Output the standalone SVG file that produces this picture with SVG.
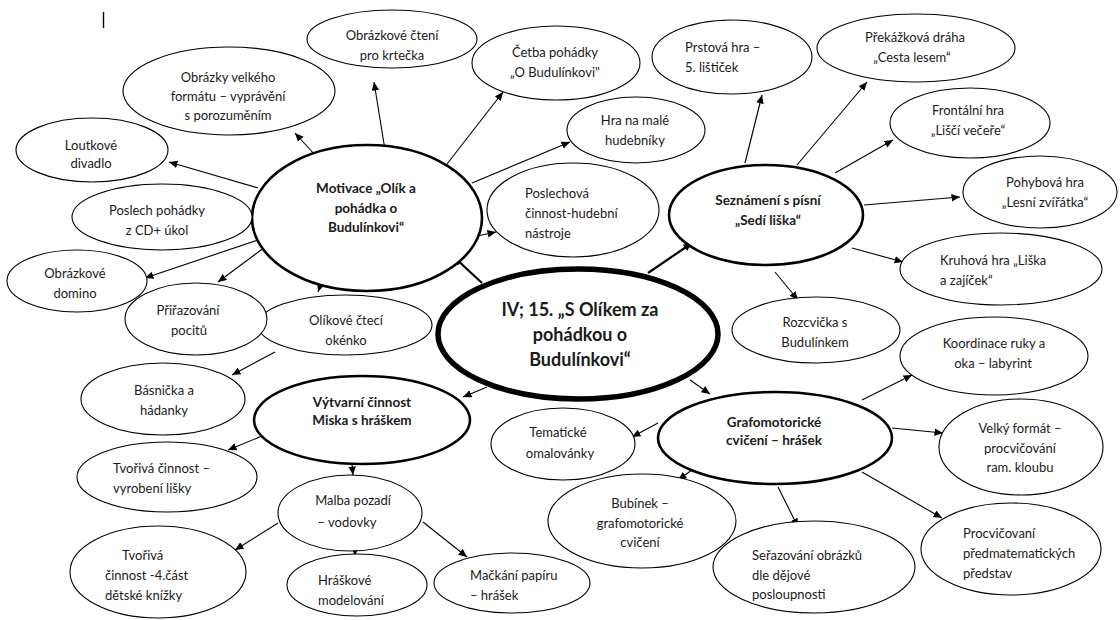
<svg xmlns="http://www.w3.org/2000/svg" width="1120" height="620" viewBox="0 0 1120 620">
<defs>
<style>
.leaf{fill:#fff;stroke:#000;stroke-width:1.1}
.mid{fill:#fff;stroke:#000;stroke-width:2.6}
.core{fill:#fff;stroke:#000;stroke-width:5.5}
text{font-family:Lato,"Open Sans","Noto Sans",sans-serif;fill:#1a1a1a}
.t{font-size:13px}
.m{text-anchor:middle}
.b{font-size:13.5px;font-weight:bold;text-anchor:middle}
.big{font-size:18px;font-weight:bold;text-anchor:middle}
.cn line{stroke:#000;stroke-width:1.1;marker-end:url(#ah)}
.cn line.thick{stroke-width:2.2}
</style>
<marker id="ah" markerUnits="userSpaceOnUse" markerWidth="9" markerHeight="8" refX="8.5" refY="3.75" orient="auto">
<path d="M0,0 L8.5,3.75 L0,7.5 z" fill="#000"/>
</marker>
</defs>
<rect width="1120" height="620" fill="#fff"/>
<line x1="103.5" y1="12" x2="103.5" y2="28" stroke="#000" stroke-width="1.4"/>

<g id="connectors" class="cn">
<line x1="315" y1="155" x2="295" y2="133"/>
<line x1="385" y1="150" x2="374" y2="82"/>
<line x1="447" y1="164" x2="503" y2="92"/>
<line x1="472" y1="183" x2="570" y2="142"/>
<line x1="477" y1="236" x2="496" y2="232"/>
<line x1="258" y1="188" x2="169" y2="162"/>
<line x1="258" y1="240" x2="145" y2="278"/>
<line x1="265" y1="247" x2="218" y2="282"/>
<line x1="325" y1="272" x2="318" y2="292"/>
<line class="thick" x1="482" y1="283" x2="454" y2="257"/>
<line class="thick" x1="648" y1="273" x2="692" y2="243"/>
<line x1="487" y1="387" x2="463" y2="397"/>
<line x1="690" y1="380" x2="710" y2="394"/>
<line x1="745" y1="163" x2="762" y2="95"/>
<line x1="797" y1="165" x2="867" y2="82"/>
<line x1="835" y1="173" x2="893" y2="140"/>
<line x1="864" y1="205" x2="960" y2="197"/>
<line x1="852" y1="248" x2="903" y2="262"/>
<line x1="775" y1="272" x2="798" y2="300"/>
<line x1="862" y1="400" x2="912" y2="375"/>
<line x1="892" y1="428" x2="943" y2="433"/>
<line x1="862" y1="472" x2="942" y2="518"/>
<line x1="778" y1="487" x2="798" y2="527"/>
<line x1="692" y1="470" x2="678" y2="480"/>
<line x1="658" y1="423" x2="632" y2="437"/>
<line x1="275" y1="352" x2="232" y2="375"/>
<line x1="262" y1="436" x2="228" y2="450"/>
<line x1="352" y1="465" x2="353" y2="475"/>
<line x1="278" y1="523" x2="235" y2="550"/>
<line x1="355" y1="548" x2="355" y2="556"/>
<line x1="423" y1="522" x2="467" y2="557"/>
</g>

<g id="n-center"><ellipse class="core" cx="578" cy="334" rx="140" ry="65"/>
<text class="big"><tspan x="580" y="316">IV; 15. „S Olíkem za</tspan><tspan x="580" y="341">pohádkou o</tspan><tspan x="580" y="366">Budulínkovi“</tspan></text></g>

<g id="n-motivace"><ellipse class="mid" cx="367" cy="218" rx="115" ry="73"/>
<text class="b"><tspan x="366" y="193">Motivace „Olík a</tspan><tspan x="366" y="213">pohádka o</tspan><tspan x="366" y="232">Budulínkovi“</tspan></text></g>

<g id="n-seznameni"><ellipse class="mid" cx="766" cy="215" rx="97" ry="50"/>
<text class="b"><tspan x="768" y="205">Seznámení s písní</tspan><tspan x="768" y="225">„Sedí liška“</tspan></text></g>

<g id="n-vytvarni"><ellipse class="mid" cx="362" cy="420" rx="108" ry="44"/>
<text class="b"><tspan x="362" y="407">Výtvarní činnost</tspan><tspan x="362" y="425">Miska s hráškem</tspan></text></g>

<g id="n-grafo"><ellipse class="mid" cx="775" cy="438" rx="117" ry="46"/>
<text class="b"><tspan x="774" y="427">Grafomotorické</tspan><tspan x="774" y="445">cvičení – hrášek</tspan></text></g>

<g id="n-obrazky-velkeho"><ellipse class="leaf" cx="229" cy="91" rx="106" ry="44"/>
<text class="t m"><tspan x="228" y="82">Obrázky velkého</tspan><tspan x="228" y="101">formátu – vyprávění</tspan><tspan x="228" y="120">s porozuměním</tspan></text></g>

<g id="n-loutkove"><ellipse class="leaf" cx="92" cy="150" rx="76" ry="32"/>
<text class="t m"><tspan x="91" y="150">Loutkové</tspan><tspan x="91" y="168">divadlo</tspan></text></g>

<g id="n-obrazkove-cteni"><ellipse class="leaf" cx="392" cy="39" rx="85" ry="29"/>
<text class="t m"><tspan x="392" y="40">Obrázkové čtení</tspan><tspan x="392" y="60">pro krtečka</tspan></text></g>

<g id="n-cetba"><ellipse class="leaf" cx="556" cy="63" rx="84" ry="37"/>
<text class="t m"><tspan x="555" y="57">Četba pohádky</tspan><tspan x="555" y="77">„O Budulínkovi"</tspan></text></g>

<g id="n-hra-male"><ellipse class="leaf" cx="636" cy="130" rx="69" ry="33"/>
<text class="t m"><tspan x="635" y="125">Hra na malé</tspan><tspan x="635" y="145">hudebníky</tspan></text></g>

<g id="n-poslechova"><ellipse class="leaf" cx="573" cy="210" rx="86" ry="47"/>
<text class="t"><tspan x="525" y="198">Poslechová</tspan><tspan x="525" y="218">činnost-hudební</tspan><tspan x="525" y="238">nástroje</tspan></text></g>

<g id="n-prstova"><ellipse class="leaf" cx="732" cy="57" rx="80" ry="37"/>
<text class="t"><tspan x="685" y="52">Prstová hra –</tspan><tspan x="685" y="72">5. lištiček</tspan></text></g>

<g id="n-prekazkova"><ellipse class="leaf" cx="916" cy="48" rx="99" ry="34"/>
<text class="t m"><tspan x="915" y="42">Překážková dráha</tspan><tspan x="912" y="62">„Cesta lesem“</tspan></text></g>

<g id="n-frontalni"><ellipse class="leaf" cx="970" cy="123" rx="80" ry="35"/>
<text class="t m"><tspan x="968" y="115">Frontální hra</tspan><tspan x="968" y="135">„Liščí večeře“</tspan></text></g>

<g id="n-pohybova"><ellipse class="leaf" cx="1040" cy="192" rx="77" ry="36"/>
<text class="t m"><tspan x="1045" y="187">Pohybová hra</tspan><tspan x="1045" y="207">„Lesní zvířátka“</tspan></text></g>

<g id="n-kruhova"><ellipse class="leaf" cx="1001" cy="269" rx="101" ry="36"/>
<text class="t"><tspan x="940" y="265">Kruhová hra „Liška</tspan><tspan x="940" y="285">a zajíček“</tspan></text></g>

<g id="n-rozcvicka"><ellipse class="leaf" cx="816" cy="330" rx="84" ry="33"/>
<text class="t m"><tspan x="815" y="327">Rozcvička s</tspan><tspan x="815" y="347">Budulínkem</tspan></text></g>

<g id="n-koordinace"><ellipse class="leaf" cx="994" cy="356" rx="94" ry="39"/>
<text class="t m"><tspan x="994" y="348">Koordinace ruky a</tspan><tspan x="993" y="368">oka – labyrint</tspan></text></g>

<g id="n-velky-format"><ellipse class="leaf" cx="1021" cy="447" rx="82" ry="48"/>
<text class="t m"><tspan x="1020" y="433">Velký formát –</tspan><tspan x="1020" y="453">procvičování</tspan><tspan x="1020" y="472">ram. kloubu</tspan></text></g>

<g id="n-procvicovani"><ellipse class="leaf" cx="1011" cy="549" rx="90" ry="46"/>
<text class="t"><tspan x="963" y="538">Procvičovaní</tspan><tspan x="963" y="558">předmatematických</tspan><tspan x="963" y="578">představ</tspan></text></g>

<g id="n-serazovani"><ellipse class="leaf" cx="814" cy="567" rx="101" ry="46"/>
<text class="t"><tspan x="752" y="560">Seřazování obrázků</tspan><tspan x="752" y="580">dle dějové</tspan><tspan x="752" y="599">posloupnosti</tspan></text></g>

<g id="n-bubinek"><ellipse class="leaf" cx="642" cy="521" rx="94" ry="47"/>
<text class="t m"><tspan x="640" y="508">Bubínek –</tspan><tspan x="640" y="528">grafomotorické</tspan><tspan x="640" y="547">cvičení</tspan></text></g>

<g id="n-tematicke"><ellipse class="leaf" cx="563" cy="444" rx="72" ry="36"/>
<text class="t m"><tspan x="558" y="437">Tematické</tspan><tspan x="560" y="458">omalovánky</tspan></text></g>

<g id="n-mackani"><ellipse class="leaf" cx="512" cy="583" rx="78" ry="30"/>
<text class="t"><tspan x="470" y="580">Mačkání papíru</tspan><tspan x="470" y="600">– hrášek</tspan></text></g>

<g id="n-hraskove"><ellipse class="leaf" cx="357" cy="585" rx="70" ry="31"/>
<text class="t"><tspan x="318" y="585">Hráškové</tspan><tspan x="318" y="605">modelování</tspan></text></g>

<g id="n-malba"><ellipse class="leaf" cx="350" cy="513" rx="72" ry="38"/>
<text class="t m"><tspan x="353" y="505">Malba pozadí</tspan><tspan x="347" y="527">– vodovky</tspan></text></g>

<g id="n-tvoriva-kniha"><ellipse class="leaf" cx="158" cy="572" rx="88" ry="46"/>
<text class="t"><tspan x="122" y="560">Tvořivá</tspan><tspan x="105" y="580">činnost -4.část</tspan><tspan x="105" y="600">dětské knížky</tspan></text></g>

<g id="n-tvoriva-lisky"><ellipse class="leaf" cx="167" cy="477" rx="90" ry="35"/>
<text class="t"><tspan x="113" y="473">Tvořivá činnost –</tspan><tspan x="113" y="493">vyrobení lišky</tspan></text></g>

<g id="n-basnicka"><ellipse class="leaf" cx="163" cy="399" rx="82" ry="36"/>
<text class="t m"><tspan x="164" y="395">Básnička a</tspan><tspan x="164" y="415">hádanky</tspan></text></g>

<g id="n-olikove"><ellipse class="leaf" cx="345" cy="325" rx="87" ry="30"/>
<text class="t m"><tspan x="346" y="325">Olíkové čtecí</tspan><tspan x="346" y="345">okénko</tspan></text></g>

<g id="n-prirazovani"><ellipse class="leaf" cx="196" cy="319" rx="71" ry="36"/>
<text class="t m"><tspan x="188" y="315">Přiřazování</tspan><tspan x="189" y="335">pocitů</tspan></text></g>

<g id="n-domino"><ellipse class="leaf" cx="77" cy="281" rx="70" ry="31"/>
<text class="t m"><tspan x="75" y="278">Obrázkové</tspan><tspan x="75" y="298">domino</tspan></text></g>

<g id="n-poslech"><ellipse class="leaf" cx="162" cy="217" rx="90" ry="33"/>
<text class="t m"><tspan x="157" y="215">Poslech pohádky</tspan><tspan x="157" y="235">z CD+ úkol</tspan></text></g>
</svg>
